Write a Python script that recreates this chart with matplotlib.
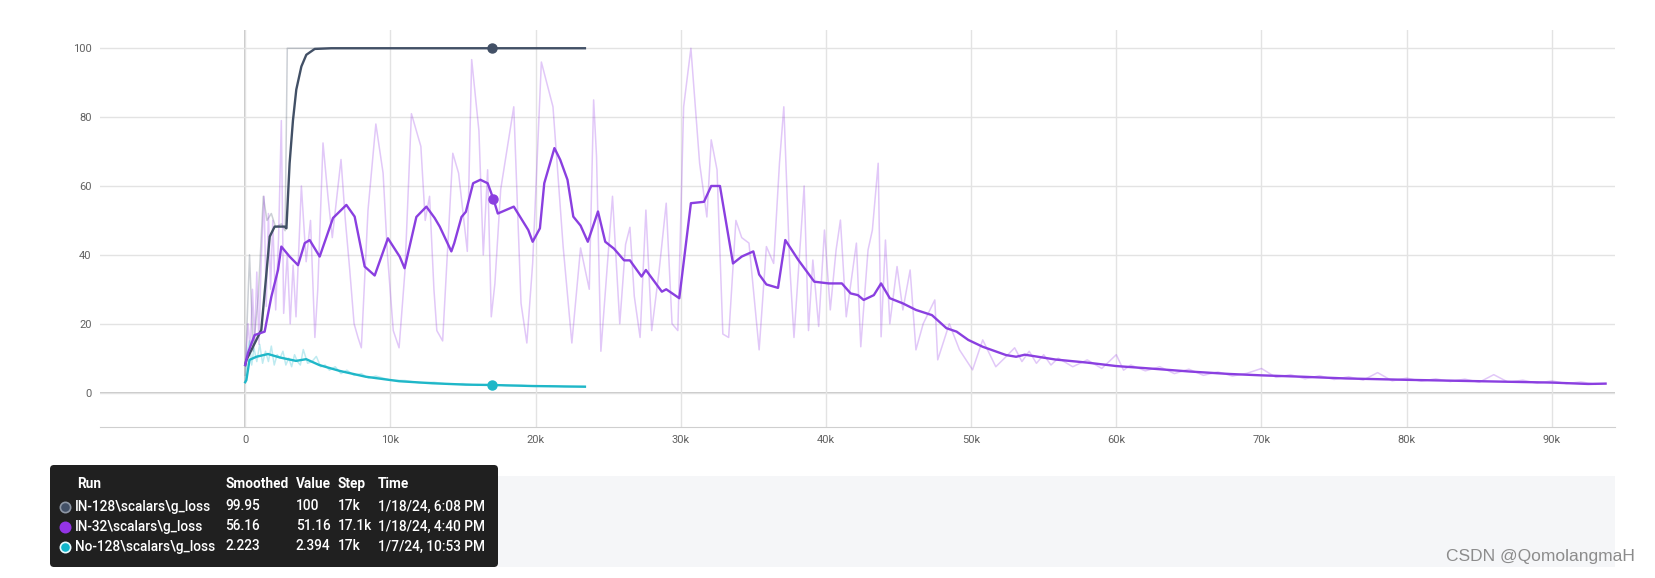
import numpy as np
import matplotlib.pyplot as plt
from matplotlib.patches import FancyBboxPatch, Rectangle

plt.rcParams['font.family'] = ['Roboto', 'DejaVu Sans']

# smoothed curves, step in thousands
in128_sm_steps = [0, 0.08, 1.11, 1.69, 2.03, 2.72, 2.84, 3.06, 3.29, 3.52, 3.87, 4.21, 4.79, 5.93, 8, 23.4]
in128_sm_vals = [8, 9.4, 18.2, 45.3, 48.2, 48.2, 47.7, 66.6, 79, 88, 94.7, 98.1, 99.8, 100, 100, 100]

in128_raw_steps = [0, 0.3, 0.55, 0.9, 1.25, 1.5, 1.8, 2.1, 2.5, 2.75, 2.9, 3.2, 23.4]
in128_raw_vals = [5, 40, 12, 28, 57, 50, 52, 48, 49, 47, 100, 100, 100]

in32_sm_steps = [0, 0.19, 0.65, 1.34, 1.8, 2.26, 2.49, 3.06, 3.64, 4.1, 4.44, 5.13, 6.05, 6.97,
                 7.54, 8.23, 8.92, 9.83, 10.64, 10.98, 11.79, 12.48, 13.05, 13.4, 14.2, 14.4,
                 14.9, 15.2, 15.7, 16.2, 16.7, 17.1, 17.4, 18.5, 19.5, 19.8, 20.3, 20.6, 21.3,
                 21.7, 22.2, 22.6, 23.1, 23.6, 24.3, 24.8, 25.4, 26.1, 26.5, 27.3, 27.6, 28.7,
                 29.0, 29.9, 30.7, 31.6, 32.1, 32.7, 33.6, 34.2, 35.0, 35.4, 35.9, 36.7, 37.2,
                 38.1, 39.2, 40.2, 41.1, 41.7, 42.2, 42.6, 43.3, 43.8, 44.4, 45.3, 46.2, 47.3,
                 48.3, 49.0, 49.8, 50.8, 52.4, 53.1, 53.7, 55.8, 58, 60, 62.3, 65.1, 67.8, 70,
                 72.8, 75.8, 80, 85, 90, 92.5, 93.7]
in32_sm_vals = [8, 11.5, 16.7, 17.7, 27.8, 35.6, 42.4, 39.5, 37, 43.4, 44.3, 39.5, 50.7, 54.5,
                51.1, 36.6, 34, 44.8, 39.5, 36.1, 51, 54, 50.7, 48.2, 41, 43.4,
                51, 52.5, 60.8, 61.8, 60.8, 56.2, 52, 54, 47.2, 43.8, 47.7, 60.8, 71,
                67.6, 61.8, 51.1, 48.5, 43.8, 52.6, 43.8, 41.8, 38.4, 38.4, 33.7, 35.6, 29.3,
                30, 27.4, 55, 55.4, 60, 60, 37.5, 39.5, 41, 34.3, 31.4, 30.4, 44.3,
                38.5, 32.2, 31.7, 31.7, 28.8, 28.3, 26.9, 28.3, 31.7, 27.4, 25.9, 24, 22.5,
                18.7, 17.7, 15.3, 13.3, 10.9, 10.4, 11, 9.6, 8.7, 7.7, 7, 6.1, 5.4, 5,
                4.6, 4.1, 3.7, 3.3, 2.9, 2.5, 2.6]

in32_raw_steps = [0, 0.2, 0.35, 0.5, 0.65, 0.8, 0.95, 1.1, 1.3, 1.45, 1.6, 1.75, 1.9, 2.1, 2.3,
                  2.49, 2.65, 2.9, 3.1, 3.3, 3.5, 3.87, 4.2, 4.5, 4.8, 5.0, 5.36, 5.7, 6.0, 6.6,
                  6.9, 7.2, 7.5, 7.77, 8.0, 8.46, 9.0, 9.5, 9.8, 10.2, 10.6, 11.0, 11.45, 12.1,
                  12.4, 12.7, 13.0, 13.2, 13.6, 14.3, 14.7, 15.3, 15.6, 16.1, 16.4, 16.7, 16.95,
                  17.2, 17.6, 18.5, 19.0, 19.4, 19.8, 20.4, 21.2, 21.9, 22.5, 23.1, 23.7, 24.0,
                  24.2, 24.5, 25.3, 25.8, 26.2, 26.5, 26.8, 27.2, 27.6, 28.0, 28.5, 29.0, 29.4,
                  29.8, 30.2, 30.7, 31.3, 31.8, 32.1, 32.5, 32.9, 33.3, 33.8, 34.2, 34.7, 35.4,
                  35.9, 36.4, 36.8, 37.1, 37.5, 37.8, 38.5, 38.8, 39.1, 39.5, 39.9, 40.3, 40.7,
                  41.0, 41.4, 42.1, 42.4, 42.9, 43.2, 43.6, 43.8, 44.1, 44.4, 44.9, 45.3, 45.8,
                  46.2, 46.7, 47.5, 47.7, 48.5, 49.2, 50.1, 50.8, 51.7, 52.4, 53, 53.5, 54, 54.5,
                  55, 55.5, 56, 57, 58, 59, 60, 60.5, 61, 62, 63, 64, 65, 66, 67, 68, 69, 70, 71,
                  72, 73, 74, 75, 76, 77, 78, 79, 80, 81, 82, 83, 84, 85, 86, 87, 88, 89, 90, 91,
                  92, 93, 93.7]
in32_raw_vals = [8, 20, 12, 30, 15, 35, 14, 38, 57, 25, 52, 30, 50, 24, 45,
                 79, 23, 40, 20, 37, 22, 60, 38, 50, 16, 30, 72.5, 57, 45, 67.7,
                 50, 35.7, 20, 16, 13, 53, 78, 63.7, 40, 18, 13, 35, 81, 71.5,
                 50, 57, 30, 18, 15, 69.5, 63.7, 41, 96.7, 76, 40, 64.7, 22,
                 31.7, 59, 83, 25.9, 14.4, 37.5, 96, 83, 42.4, 14.4, 42, 30, 85,
                 68.6, 12, 57, 20, 43, 48, 28, 16, 53, 18, 35, 55, 20,
                 18, 83, 100, 66.6, 51, 73.4, 64.7, 17, 16, 50, 45, 43.4, 12.4,
                 42.4, 37.5, 66.6, 83, 37.5, 16, 60, 18, 38.5, 19.2, 47.2, 24, 41.4,
                 50.1, 22, 43.4, 13.3, 41.4, 47.2, 66.6, 16.2, 44.3, 20, 36.6, 24, 35.6,
                 12.4, 20, 26.9, 9.5, 20, 12.4, 6.6, 15.3, 7.5, 10.4, 13, 9, 12, 8.5,
                 11, 8, 10, 7.5, 9.5, 7, 11, 6.5, 8, 6.3, 7.5, 5.5, 6.8, 5, 6, 4.8, 5.6, 7, 4.4,
                 5.2, 4, 4.9, 3.8, 4.6, 3.6, 5.8, 3.4, 4.2, 3.3, 4, 3.2, 3.9, 3, 5.2, 3, 3.6, 2.7,
                 3.4, 2.6, 3.1, 2.4, 2.6]

no128_sm_steps = [0, 0.08, 0.3, 0.77, 1.57, 2.38, 3.5, 4.2, 5.1, 6.5, 8.3, 10.6, 12.9, 15.2, 17, 19.8, 23.4]
no128_sm_vals = [3, 3.6, 9.5, 10.4, 11.2, 10.2, 9.2, 9.7, 8, 6.3, 4.6, 3.3, 2.7, 2.3, 2.2, 1.9, 1.7]

no128_raw_steps = [0, 0.15, 0.3, 0.45, 0.6, 0.8, 1.0, 1.2, 1.4, 1.6, 1.8, 2.0, 2.2, 2.4, 2.6, 2.8,
                   3.0, 3.2, 3.4, 3.6, 3.8, 4.0, 4.3, 4.6, 4.9, 5.2, 5.5, 5.8, 6.2, 6.6, 7.0, 7.5,
                   8.0, 8.5, 9, 10, 11, 12, 13, 14, 15, 16, 17, 18, 19, 20, 21, 22, 23.4]
no128_raw_vals = [3, 12, 15, 8, 13, 9, 14, 8.5, 12, 9, 13.5, 8, 11, 10, 12, 8,
                  10, 7.5, 11, 9, 8, 12.5, 8.5, 9, 10.5, 7.5, 8, 6.5, 7.5, 5.5, 6.5, 5,
                  5.5, 4.2, 4.8, 3.6, 3.5, 2.8, 3, 2.4, 2.6, 2.1, 2.4, 2, 2.1, 1.8, 2, 1.7, 1.8]

# hover row
runs = [r'IN-128\scalars\g_loss', r'IN-32\scalars\g_loss', r'No-128\scalars\g_loss']
hover_steps = [17.0, 17.1, 17.0]
smoothed = [99.95, 56.16, 2.223]
values = ['100', '51.16', '2.394']
step_lbl = ['17k', '17.1k', '17k']
times = ['1/18/24, 6:08 PM', '1/18/24, 4:40 PM', '1/7/24, 10:53 PM']
colors = ['#425066', '#9334e6', '#12b5cb']
line_colors = ['#425066', '#8a3fe0', '#1fb7c8']

fig = plt.figure(figsize=(16.55, 5.78), dpi=100)
ax = fig.add_axes([100 / 1655, 1 - 427 / 578, 1515 / 1655, 397 / 578])

raws = [(in128_raw_steps, in128_raw_vals), (in32_raw_steps, in32_raw_vals), (no128_raw_steps, no128_raw_vals)]
sms = [(in128_sm_steps, in128_sm_vals), (in32_sm_steps, in32_sm_vals), (no128_sm_steps, no128_sm_vals)]

for (s, v), c in zip(raws, colors):
    ax.plot(np.array(s) * 1000, v, color=c, alpha=0.27, lw=1.1, zorder=2)
for (s, v), c in zip(sms, line_colors):
    ax.plot(np.array(s) * 1000, v, color=c, lw=1.7, zorder=3)
for st, val, c in zip(hover_steps, smoothed, line_colors):
    ax.plot(st * 1000, val, 'o', color=c, ms=6.5, zorder=4)

ax.set_xlim(-10000, 94350)
ax.set_ylim(-10, 105.3)
ax.set_xticks(np.arange(0, 90001, 10000))
ax.set_xticklabels(['0'] + [f'{k}k' for k in range(10, 91, 10)])
ax.set_yticks(np.arange(0, 101, 20))
ax.grid(color='#e3e3e3', lw=1)
ax.axhline(0, color='#bdbdbd', lw=1.2, zorder=1)
ax.axvline(0, color='#bdbdbd', lw=1.2, zorder=1)
ax.tick_params(length=0, labelsize=8, labelcolor='#616161', pad=6)
for sp in ['top', 'right', 'left']:
    ax.spines[sp].set_visible(False)
ax.spines['bottom'].set_color('#cfcfcf')

# hover table below the chart, in pixel coords
ov = fig.add_axes([0, 0, 1, 1])
ov.set_xlim(0, 1655)
ov.set_ylim(578, 0)
ov.axis('off')
ov.add_patch(Rectangle((498, 476), 1117, 91, color='#f5f6f8', lw=0))
ov.add_patch(FancyBboxPatch((50, 465), 448, 102, boxstyle='round,pad=0,rounding_size=4',
                            fc='#202020', ec='none'))

fs = 9.8
hdr_y = 484
for x, h in zip([77, 225, 296, 338, 378], ['Run', 'Smoothed', 'Value', 'Step', 'Time']):
    ov.text(x, hdr_y, h, color='white', fontsize=fs, weight='bold', va='center')

edge = ['#8e97a5', '#9334e6', '#e8fbff']
for i in range(3):
    y = 506.5 + i * 20
    ov.scatter(64.5, y, s=55, color=colors[i], edgecolors=edge[i], linewidths=1.2, zorder=5)
    ov.text(75, y, runs[i], color='white', fontsize=fs, weight='medium', va='center')
    ov.text(225, y, f'{smoothed[i]}', color='white', fontsize=fs, weight='medium', va='center')
    ov.text(296, y, values[i], color='white', fontsize=fs, weight='medium', va='center')
    ov.text(338, y, step_lbl[i], color='white', fontsize=fs, weight='medium', va='center')
    ov.text(378, y, times[i], color='white', fontsize=fs, weight='medium', va='center')

ov.text(1446, 557, 'CSDN @QomolangmaH', color='#8c8c8c', fontsize=12.5,
        family=['Liberation Sans', 'DejaVu Sans'], va='center')

fig.savefig('out.png', dpi=100)
